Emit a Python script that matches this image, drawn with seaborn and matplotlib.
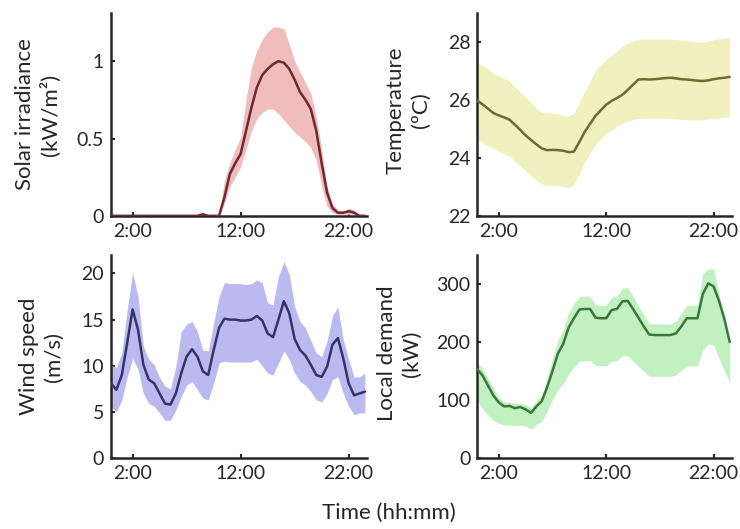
import numpy as np
import pandas as pd
import matplotlib
matplotlib.use("Agg")
import matplotlib.pyplot as plt
import seaborn as sns

# ---- data (half-hour resolution, hours 0 .. 23.5) ----
hours = np.arange(0, 24, 0.5)

solar_mean = [0, 0, 0, 0, 0, 0, 0, 0, 0, 0, 0, 0, 0, 0, 0, 0, 0, 0.01, 0, 0,
              0, 0.12, 0.27, 0.34, 0.40, 0.55, 0.70, 0.83, 0.91, 0.95,
              0.98, 1.00, 0.99, 0.95, 0.88, 0.80, 0.75, 0.69, 0.55, 0.34,
              0.15, 0.05, 0.02, 0.02, 0.03, 0.02, 0, 0]
solar_upper = [0, 0, 0, 0, 0, 0, 0, 0, 0, 0, 0, 0, 0, 0, 0, 0, 0, 0.015, 0, 0,
               0, 0.23, 0.34, 0.43, 0.51, 0.75, 0.96, 1.07, 1.14, 1.19,
               1.22, 1.22, 1.21, 1.11, 1.00, 0.93, 0.86, 0.79, 0.64, 0.43,
               0.19, 0.08, 0.04, 0.03, 0.05, 0.04, 0, 0]
solar_lower = [0, 0, 0, 0, 0, 0, 0, 0, 0, 0, 0, 0, 0, 0, 0, 0, 0, 0.005, 0, 0,
               0, 0.08, 0.19, 0.25, 0.32, 0.43, 0.55, 0.63, 0.67, 0.69,
               0.69, 0.66, 0.62, 0.58, 0.54, 0.51, 0.48, 0.44, 0.36, 0.19,
               0.06, 0.02, 0.01, 0.01, 0.01, 0.01, 0, 0]

temp_mean = [25.98, 25.85, 25.70, 25.55, 25.47, 25.40, 25.32, 25.15, 24.97, 24.78,
             24.62, 24.47, 24.33, 24.27, 24.28, 24.27, 24.25, 24.20, 24.22, 24.55,
             24.90, 25.18, 25.45, 25.65, 25.84, 25.97, 26.07, 26.18, 26.35, 26.53,
             26.71, 26.72, 26.71, 26.72, 26.74, 26.76, 26.77, 26.75, 26.72, 26.71,
             26.69, 26.67, 26.66, 26.68, 26.72, 26.75, 26.77, 26.80]
temp_upper = [27.31, 27.20, 27.06, 26.94, 26.84, 26.75, 26.65, 26.46, 26.28, 26.10,
              25.92, 25.72, 25.58, 25.56, 25.55, 25.53, 25.46, 25.44, 25.55, 25.95,
              26.30, 26.68, 27.02, 27.22, 27.40, 27.55, 27.70, 27.85, 27.97, 28.05,
              28.10, 28.10, 28.10, 28.10, 28.10, 28.10, 28.10, 28.09, 28.07, 28.05,
              28.03, 28.01, 28.00, 28.04, 28.08, 28.12, 28.14, 28.16]
temp_lower = [24.64, 24.53, 24.43, 24.33, 24.24, 24.15, 24.05, 23.88, 23.72, 23.55,
              23.39, 23.22, 23.10, 23.04, 23.04, 23.04, 23.01, 22.97, 23.08, 23.45,
              23.85, 24.17, 24.47, 24.66, 24.85, 24.97, 25.08, 25.19, 25.27, 25.32,
              25.36, 25.37, 25.37, 25.37, 25.37, 25.37, 25.37, 25.35, 25.33, 25.32,
              25.32, 25.32, 25.32, 25.34, 25.36, 25.38, 25.41, 25.43]

wind_mean = [8.1, 7.4, 9.0, 12.5, 16.1, 13.9, 10.1, 8.5, 8.1, 7.0,
             5.9, 5.8, 7.0, 9.2, 11.0, 11.8, 11.0, 9.4, 9.0, 11.7,
             14.1, 15.1, 15.0, 15.0, 14.9, 14.9, 15.0, 15.4, 14.9, 13.5,
             13.1, 15.0, 17.0, 15.7, 12.9, 11.7, 11.1, 10.1, 9.0, 8.8,
             9.9, 12.3, 13.0, 10.8, 8.1, 6.8, 7.0, 7.2]
wind_upper = [10.1, 9.8, 11.4, 16.1, 20.1, 17.5, 12.1, 10.7, 10.1, 8.7,
              7.8, 7.5, 9.9, 13.7, 14.5, 14.8, 13.7, 11.7, 11.6, 14.6,
              17.5, 19.0, 18.9, 18.9, 18.9, 18.8, 18.9, 19.3, 19.0, 16.8,
              16.6, 19.7, 21.3, 19.9, 16.4, 14.8, 14.1, 12.7, 11.4, 11.0,
              12.7, 15.4, 16.4, 12.8, 10.7, 8.8, 8.8, 9.2]
wind_lower = [5.6, 5.0, 6.3, 8.8, 10.8, 9.6, 7.0, 5.9, 5.6, 4.9,
              4.1, 4.1, 5.2, 6.7, 7.9, 8.3, 7.4, 6.5, 6.3, 8.1,
              10.3, 10.5, 10.4, 10.4, 10.4, 10.4, 10.4, 10.7, 10.0, 9.2,
              9.0, 10.3, 11.6, 10.7, 9.2, 8.3, 7.9, 7.2, 6.3, 6.1,
              7.0, 8.5, 8.8, 7.0, 5.6, 4.7, 4.9, 4.9]

demand_mean = [153, 142, 125, 108, 96, 89, 90, 86, 88, 84,
               78, 89, 98, 122, 150, 180, 197, 225, 241, 256,
               257, 257, 242, 241, 241, 255, 257, 270, 271, 257,
               242, 227, 213, 212, 212, 212, 212, 215, 227, 241,
               241, 241, 283, 301, 296, 271, 240, 200]
demand_upper = [165, 154, 138, 121, 104, 97, 96, 95, 95, 92,
                87, 99, 108, 138, 170, 203, 222, 250, 266, 278,
                279, 279, 264, 263, 263, 277, 279, 293, 294, 279,
                263, 247, 232, 231, 231, 231, 231, 236, 250, 263,
                263, 263, 318, 326, 326, 284, 243, 200]
demand_lower = [99, 85, 74, 65, 60, 57, 57, 56, 57, 55,
                50, 58, 63, 80, 101, 118, 128, 145, 157, 167,
                168, 168, 160, 159, 159, 167, 168, 176, 176, 167,
                158, 150, 141, 141, 141, 141, 141, 143, 152, 159,
                159, 159, 186, 197, 195, 172, 150, 131]

xticks = [2, 12, 22]
xticklabels = ["2:00", "12:00", "22:00"]

panels = [
    dict(mean=solar_mean, lo=solar_lower, hi=solar_upper,
         label="Solar irradiance\n(kW/m\u00b2)", ylim=(0, 1.31),
         yticks=[0, 0.5, 1], yticklabels=["0", "0.5", "1"],
         line="#6e2a2e", fill="#f0bcbc", labxy=(-0.285, 0.5)),
    dict(mean=temp_mean, lo=temp_lower, hi=temp_upper,
         label="Temperature\n(\u00baC)", ylim=(22, 29),
         yticks=[22, 24, 26, 28], yticklabels=["22", "24", "26", "28"],
         line="#6b6b35", fill="#f1f1c0", labxy=(-0.271, 0.52)),
    dict(mean=wind_mean, lo=wind_lower, hi=wind_upper,
         label="Wind speed\n(m/s)", ylim=(0, 22),
         yticks=[0, 5, 10, 15, 20], yticklabels=["0", "5", "10", "15", "20"],
         line="#34346a", fill="#babaf0", labxy=(-0.273, 0.5)),
    dict(mean=demand_mean, lo=demand_lower, hi=demand_upper,
         label="Local demand\n(kW)", ylim=(0, 350),
         yticks=[0, 100, 200, 300], yticklabels=["0", "100", "200", "300"],
         line="#3a783a", fill="#c1f0c1", labxy=(-0.306, 0.515)),
]

sns.set_theme(style="ticks")
plt.rcParams["font.family"] = ["Lato", "DejaVu Sans"]
plt.rcParams["axes.edgecolor"] = "#262626"

fig = plt.figure(figsize=(7.40, 5.29), dpi=100)
boxes = [
    (0.150, 0.592, 0.346, 0.383),
    (0.645, 0.592, 0.344, 0.383),
    (0.150, 0.134, 0.346, 0.384),
    (0.645, 0.134, 0.344, 0.384),
]

for box, p in zip(boxes, panels):
    ax = fig.add_axes(box)
    df = pd.DataFrame({"hour": hours, "value": p["mean"]})
    ax.fill_between(hours, p["lo"], p["hi"], color=p["fill"], linewidth=0, zorder=1)
    sns.lineplot(data=df, x="hour", y="value", ax=ax, color=p["line"],
                 linewidth=1.8, zorder=3)
    ax.set_xlim(0, 23.7)
    ax.set_ylim(*p["ylim"])
    ax.set_xticks(xticks)
    ax.set_xticklabels(xticklabels)
    ax.set_yticks(p["yticks"])
    ax.set_yticklabels(p["yticklabels"])
    ax.tick_params(direction="in", length=3, width=1.5, labelsize=14,
                   colors="#262626", pad=5)
    ax.set_xlabel("")
    ax.set_ylabel(p["label"], fontsize=16, color="#262626", linespacing=1.3)
    ax.yaxis.label.set_verticalalignment("center")
    ax.yaxis.set_label_coords(*p["labxy"])
    for s in ["top", "right"]:
        ax.spines[s].set_visible(False)
    for s in ["left", "bottom"]:
        ax.spines[s].set_linewidth(1.8)
        ax.spines[s].set_color("#262626")

fig.text(0.526, 0.03, "Time (hh:mm)", ha="center", va="center", fontsize=16,
         color="#262626")

fig.savefig("out.png", dpi=100)
